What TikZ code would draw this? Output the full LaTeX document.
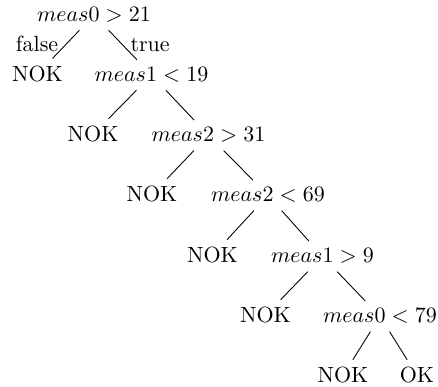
\documentclass[tikz,border=0pt]{standalone}
\usepackage{amsmath}
\usepackage{tikz}

\begin{document}
\begin{tikzpicture}[x=0.4545pt, y=-0.4545pt,
    test/.style={anchor=base},
    leaf/.style={anchor=base},
    branch/.style={line width=0.4pt}
]
\useasboundingbox (0,0) rectangle (438,387);

\node[test] (t0) at ( 94,  21.7) {$meas0 > 21$};
\node[leaf] (l1) at ( 37.5, 81.7) {NOK};
\node[test] (t1) at (151.5, 81.7) {$meas1 < 19$};

\draw[branch] (t0) -- node[left] {false} (l1);
\draw[branch] (t0) -- node[right] {true} (t1);

\node[leaf] (l2) at ( 93, 142) {NOK};
\node[test] (t2) at (208.5, 142) {$meas2 > 31$};

\draw[branch] (t1) -- (l2);
\draw[branch] (t1) -- (t2);

\node[leaf] (l3) at (152, 202) {NOK};
\node[test] (t3) at (268, 202) {$meas2 < 69$};

\draw[branch] (t2) -- (l3);
\draw[branch] (t2) -- (t3);

\node[leaf] (l4) at (212.5, 263) {NOK};
\node[test] (t4) at (322.5, 263) {$meas1 > 9$};

\draw[branch] (t3) -- (l4);
\draw[branch] (t3) -- (t4);

\node[leaf] (l5) at (265.5, 323) {NOK};
\node[test] (t5) at (380, 323) {$meas0 < 79$};

\draw[branch] (t4) -- (l5);
\draw[branch] (t4) -- (t5);

\node[leaf] (l6) at (343, 383) {NOK};
\node[leaf] (l7) at (417, 383) {OK};

\draw[branch] (t5) -- (l6);
\draw[branch] (t5) -- (l7);

\end{tikzpicture}
\end{document}
